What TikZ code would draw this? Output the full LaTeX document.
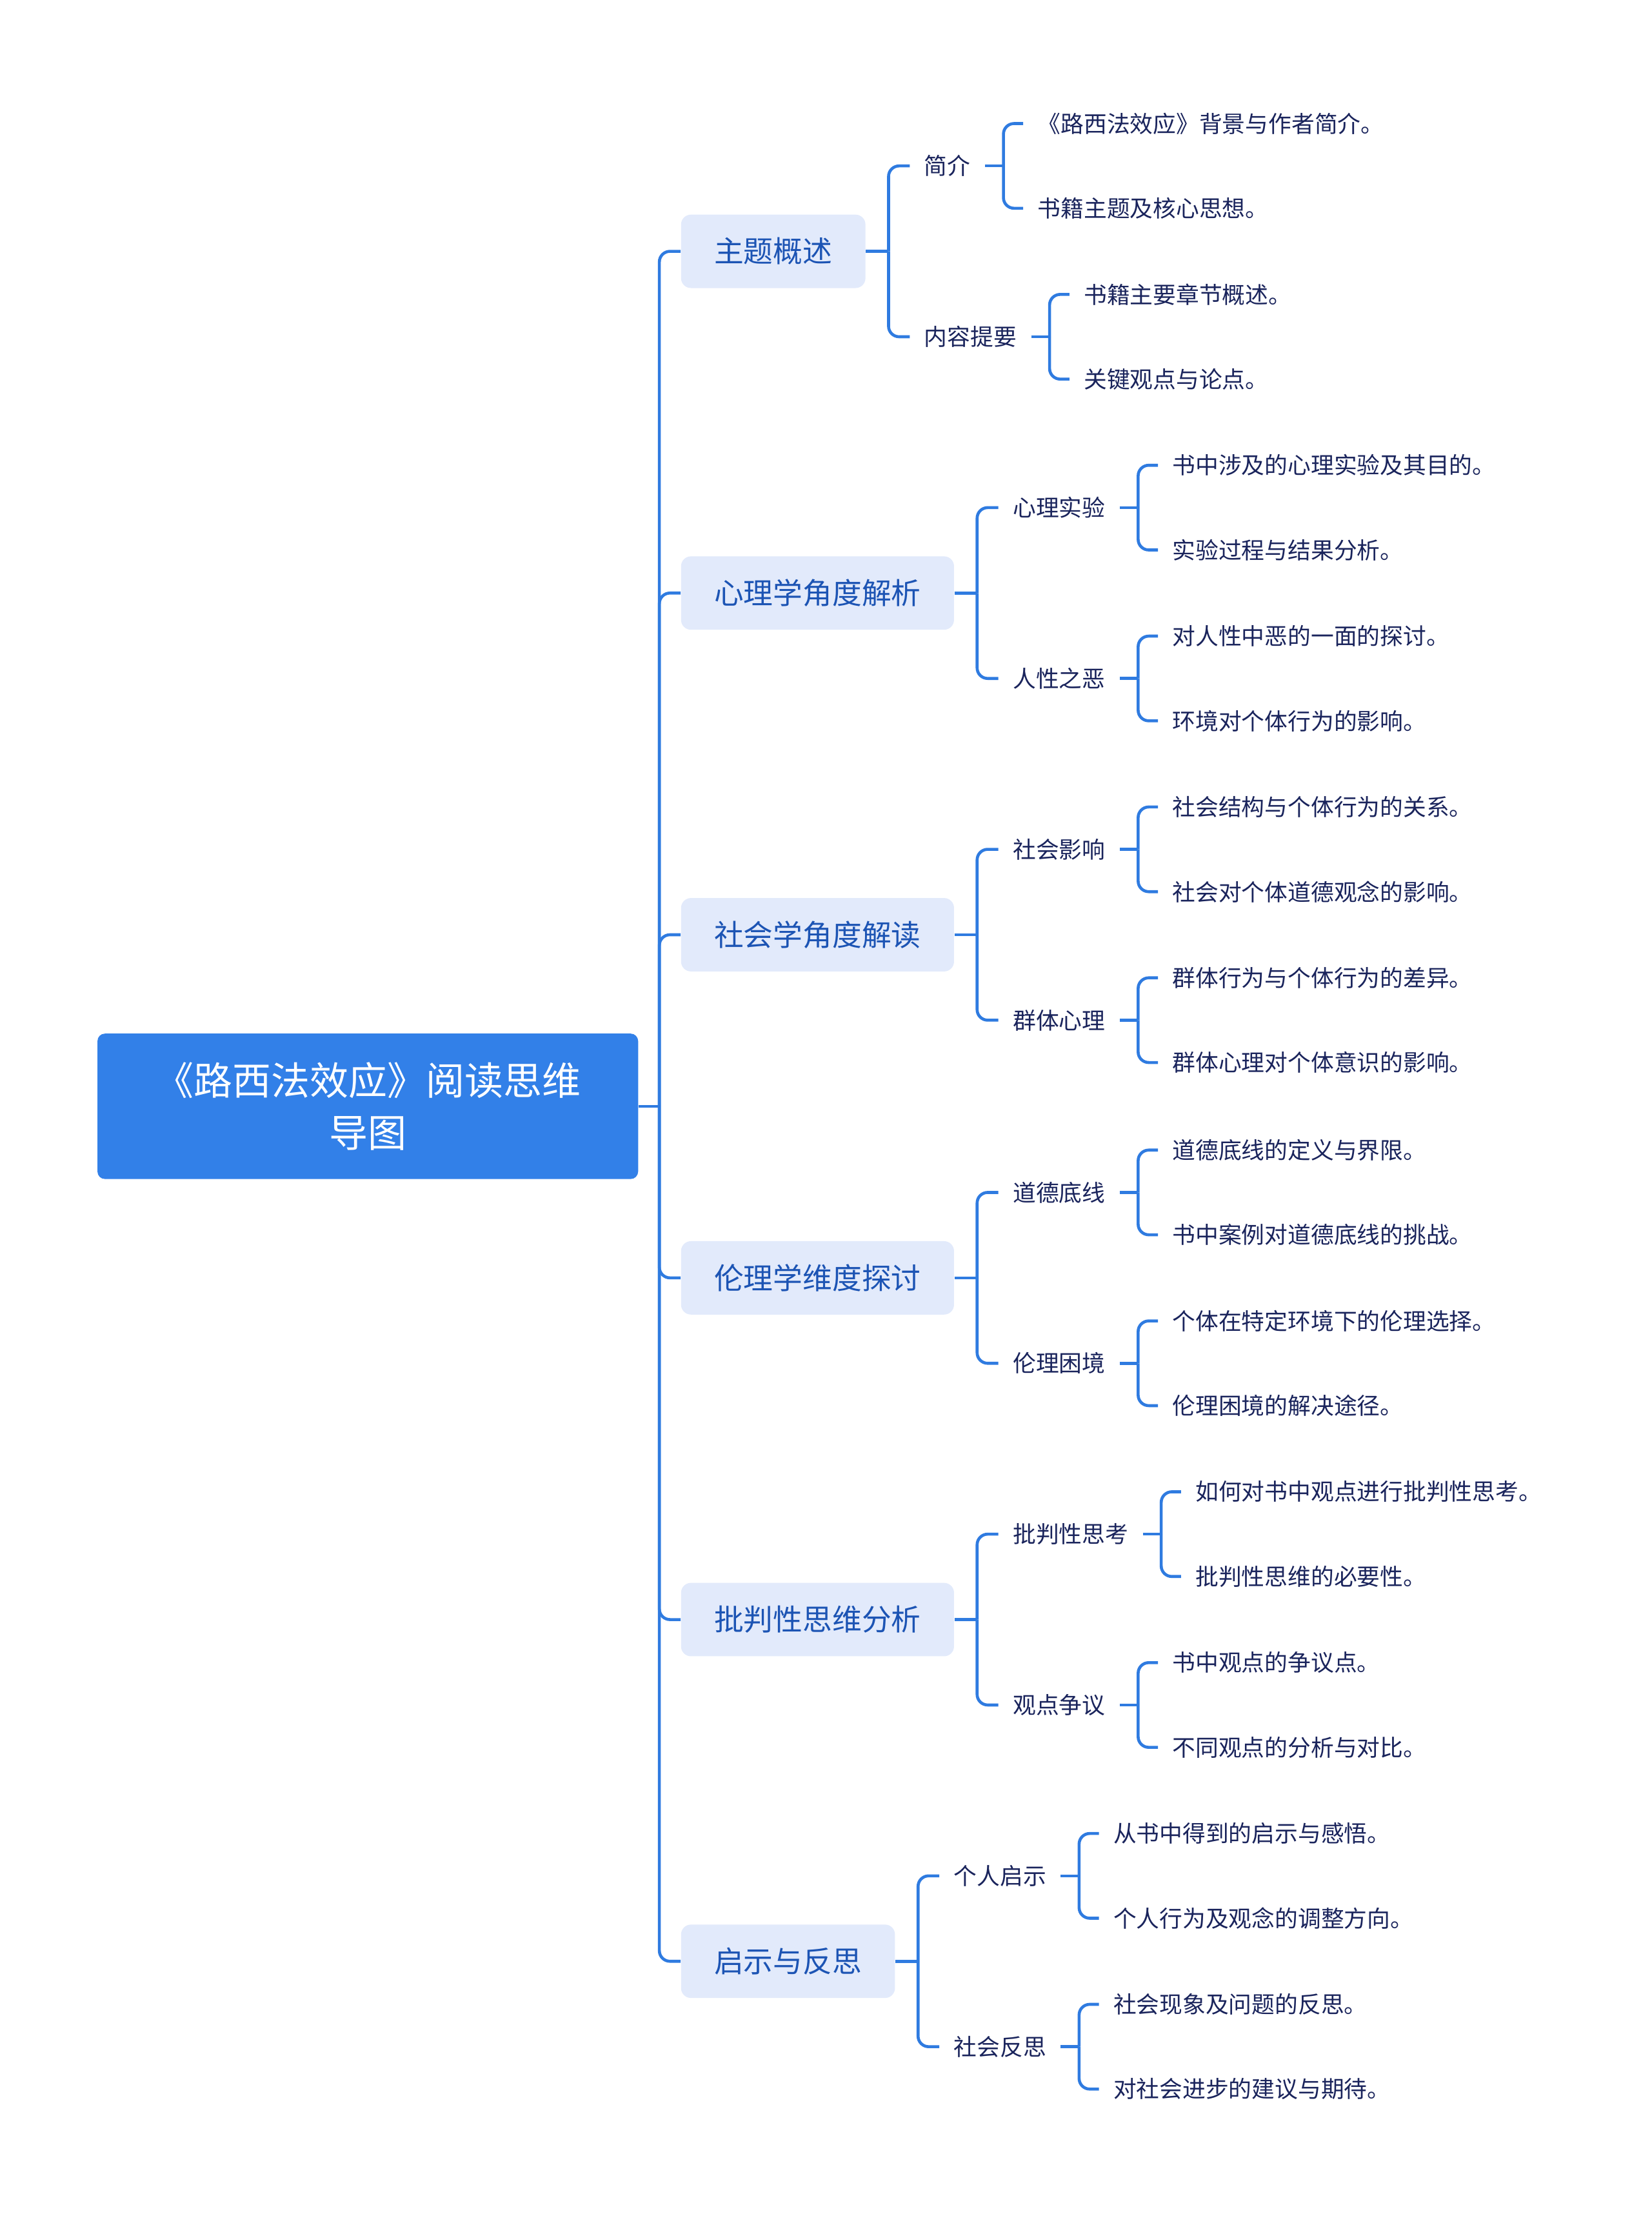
\documentclass[tikz,border=0pt]{standalone}
\usepackage{fontspec}
\setmainfont{Noto Sans CJK SC}
\usepackage{xcolor}
\usepackage{tikz}
\usetikzlibrary{positioning, calc}
\definecolor{rootblue}{RGB}{50,128,232}
\definecolor{branchblue}{RGB}{47,123,224}
\definecolor{topicfill}{RGB}{226,234,251}
\definecolor{topictext}{RGB}{28,84,180}
\definecolor{navy}{RGB}{26,36,92}

\begin{document}
\begin{tikzpicture}[
    x=0.02cm, y=-0.02cm,
    root/.style={rectangle, rounded corners=3pt, fill=rootblue, text=white, minimum width=7.66cm, minimum height=2.06cm, align=center, font=\fontsize{15.6}{21}\selectfont},
    topic/.style={rectangle, rounded corners=4pt, fill=topicfill, text=topictext, anchor=west, minimum height=1.04cm, inner xsep=0.47cm, font=\fontsize{11.9}{14}\selectfont},
    sub/.style={anchor=west, text=navy, inner xsep=0.2cm, font=\fontsize{9.3}{11}\selectfont},
    leaf/.style={anchor=west, text=navy, inner xsep=0.2cm, font=\fontsize{9.3}{11}\selectfont},
    branch/.style={draw=branchblue, line width=1.2pt, rounded corners=0.15cm},
]
\useasboundingbox (0,0) rectangle (1170,1568);

% root and first level
\node[root] (root) at (260.5,783.5) {《路西法效应》阅读思维\\导图};
\coordinate (root-b) at (467,783.5);

\node[topic] (t1) at (482,178)  {主题概述};
\node[topic] (t2) at (482,420)  {心理学角度解析};
\node[topic] (t3) at (482,662)  {社会学角度解读};
\node[topic] (t4) at (482,905)  {伦理学维度探讨};
\node[topic] (t5) at (482,1147) {批判性思维分析};
\node[topic] (t6) at (482,1389) {启示与反思};

\foreach \t in {t1,t2,t3,t4,t5,t6}
    \coordinate (\t-b) at ($(\t.east)+(16,0)$);

% second level
\node[sub] (s11) at ($(t1-b)+(15,-60.5)$) {简介};
\node[sub] (s12) at ($(t1-b)+(15,60.5)$)  {内容提要};
\node[sub] (s21) at ($(t2-b)+(15,-60.5)$) {心理实验};
\node[sub] (s22) at ($(t2-b)+(15,60.5)$)  {人性之恶};
\node[sub] (s31) at ($(t3-b)+(15,-60.5)$) {社会影响};
\node[sub] (s32) at ($(t3-b)+(15,60.5)$)  {群体心理};
\node[sub] (s41) at ($(t4-b)+(15,-60.5)$) {道德底线};
\node[sub] (s42) at ($(t4-b)+(15,60.5)$)  {伦理困境};
\node[sub] (s51) at ($(t5-b)+(15,-60.5)$) {批判性思考};
\node[sub] (s52) at ($(t5-b)+(15,60.5)$)  {观点争议};
\node[sub] (s61) at ($(t6-b)+(15,-60.5)$) {个人启示};
\node[sub] (s62) at ($(t6-b)+(15,60.5)$)  {社会反思};

\foreach \s in {s11,s12,s21,s22,s31,s32,s41,s42,s51,s52,s61,s62}
    \coordinate (\s-b) at ($(\s.east)+(13,0)$);

% leaves
\node[leaf] (l111) at ($(s11-b)+(14,-30)$) {《路西法效应》背景与作者简介。};
\node[leaf] (l112) at ($(s11-b)+(14,30)$)  {书籍主题及核心思想。};
\node[leaf] (l121) at ($(s12-b)+(14,-30)$) {书籍主要章节概述。};
\node[leaf] (l122) at ($(s12-b)+(14,30)$)  {关键观点与论点。};
\node[leaf] (l211) at ($(s21-b)+(14,-30)$) {书中涉及的心理实验及其目的。};
\node[leaf] (l212) at ($(s21-b)+(14,30)$)  {实验过程与结果分析。};
\node[leaf] (l221) at ($(s22-b)+(14,-30)$) {对人性中恶的一面的探讨。};
\node[leaf] (l222) at ($(s22-b)+(14,30)$)  {环境对个体行为的影响。};
\node[leaf] (l311) at ($(s31-b)+(14,-30)$) {社会结构与个体行为的关系。};
\node[leaf] (l312) at ($(s31-b)+(14,30)$)  {社会对个体道德观念的影响。};
\node[leaf] (l321) at ($(s32-b)+(14,-30)$) {群体行为与个体行为的差异。};
\node[leaf] (l322) at ($(s32-b)+(14,30)$)  {群体心理对个体意识的影响。};
\node[leaf] (l411) at ($(s41-b)+(14,-30)$) {道德底线的定义与界限。};
\node[leaf] (l412) at ($(s41-b)+(14,30)$)  {书中案例对道德底线的挑战。};
\node[leaf] (l421) at ($(s42-b)+(14,-30)$) {个体在特定环境下的伦理选择。};
\node[leaf] (l422) at ($(s42-b)+(14,30)$)  {伦理困境的解决途径。};
\node[leaf] (l511) at ($(s51-b)+(14,-30)$) {如何对书中观点进行批判性思考。};
\node[leaf] (l512) at ($(s51-b)+(14,30)$)  {批判性思维的必要性。};
\node[leaf] (l521) at ($(s52-b)+(14,-30)$) {书中观点的争议点。};
\node[leaf] (l522) at ($(s52-b)+(14,30)$)  {不同观点的分析与对比。};
\node[leaf] (l611) at ($(s61-b)+(14,-30)$) {从书中得到的启示与感悟。};
\node[leaf] (l612) at ($(s61-b)+(14,30)$)  {个人行为及观念的调整方向。};
\node[leaf] (l621) at ($(s62-b)+(14,-30)$) {社会现象及问题的反思。};
\node[leaf] (l622) at ($(s62-b)+(14,30)$)  {对社会进步的建议与期待。};

% connectors
\draw[branch] (root.east) -- (root-b);
\foreach \t in {t1,t2,t3,t4,t5,t6}
    \draw[branch] (root-b) |- (\t.west);

\foreach \p in {t1,t2,t3,t4,t5,t6,s11,s12,s21,s22,s31,s32,s41,s42,s51,s52,s61,s62}
    \draw[branch] (\p.east) -- (\p-b);

\foreach \p/\c in {t1/s11,t1/s12,t2/s21,t2/s22,t3/s31,t3/s32,t4/s41,t4/s42,t5/s51,t5/s52,t6/s61,t6/s62}
    \draw[branch] (\p-b) |- (\c.west);

\foreach \n in {11,12,21,22,31,32,41,42,51,52,61,62} {
    \draw[branch] (s\n-b) |- (l\n1.west);
    \draw[branch] (s\n-b) |- (l\n2.west);
}
\end{tikzpicture}
\end{document}
